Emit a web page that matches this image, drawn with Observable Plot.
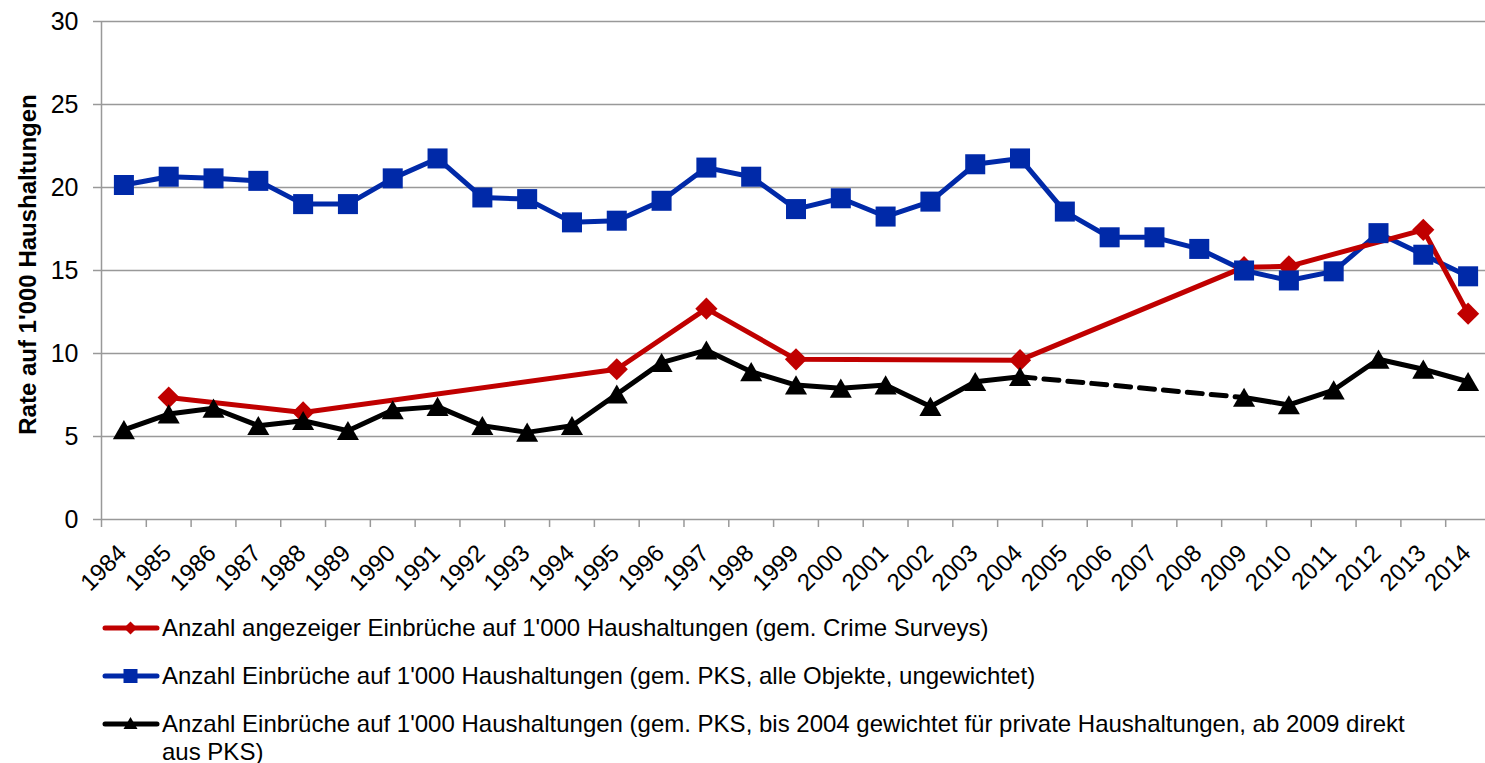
<!DOCTYPE html>
<html><head><meta charset="utf-8">
<script src="https://cdn.jsdelivr.net/npm/d3@7"></script>
<script src="https://cdn.jsdelivr.net/npm/@observablehq/plot@0.6"></script>
<style>
body{margin:0;background:#fff;font-family:"Liberation Sans",Arial,sans-serif;}
#legend{position:relative;height:166px;width:1485px;}
.row{position:absolute;left:0;width:1485px;}
.row svg{position:absolute;left:100px;top:2px;}
.row span{position:absolute;left:162px;top:0;font-size:24px;line-height:28px;color:#000;white-space:pre;}
</style></head><body>
<div id="chart"></div>
<div id="legend"></div>
<script>
const years = [1984,1985,1986,1987,1988,1989,1990,1991,1992,1993,1994,1995,1996,1997,1998,1999,2000,2001,2002,2003,2004,2005,2006,2007,2008,2009,2010,2011,2012,2013,2014];
const blueValues = [20.15,20.65,20.55,20.4,19.0,19.0,20.55,21.75,19.4,19.3,17.9,18.0,19.2,21.2,20.65,18.7,19.35,18.25,19.15,21.4,21.75,18.55,17.0,17.0,16.3,15.0,14.4,14.95,17.25,15.95,14.65];
const redYears = [1985,1988,1995,1997,1999,2004,2009,2010,2013,2014];
const redValues = [7.35,6.45,9.05,12.7,9.65,9.6,15.2,15.25,17.45,12.4];
const blackValues = [5.4,6.35,6.7,5.65,5.95,5.35,6.6,6.8,5.65,5.25,5.65,7.55,9.45,10.2,8.9,8.1,7.9,8.1,6.8,8.3,8.6,null,null,null,null,7.35,6.9,7.8,9.65,9.05,8.3];
const yTicks = [0,5,10,15,20,25,30];
const yTitle = "Rate auf 1'000 Haushaltungen";
const seriesNames = [
  "Anzahl angezeiger Einbrüche auf 1'000 Haushaltungen (gem. Crime Surveys)",
  "Anzahl Einbrüche auf 1'000 Haushaltungen (gem. PKS, alle Objekte, ungewichtet)",
  "Anzahl Einbrüche auf 1'000 Haushaltungen (gem. PKS, bis 2004 gewichtet für private Haushaltungen, ab 2009 direkt\naus PKS)"
];
const seriesColors = ["#C00000", "#0029A8", "#000000"];
const seriesSymbols = ["diamond2", "square", "triangle"];

const red = seriesColors[0], blue = seriesColors[1], black = seriesColors[2];
const blueData = years.map((y, i) => ({year: y, value: blueValues[i]}));
const redData = redYears.map((y, i) => ({year: y, value: redValues[i]}));
const blackAll = years.map((y, i) => ({year: y, value: blackValues[i]}));
const blackData = [];
let seg = 0;
blackAll.forEach((d, i) => {
  if (d.value == null) { if (i > 0 && blackAll[i-1].value != null) seg++; }
  else blackData.push({...d, seg});
});
const blackGap = [];
blackAll.forEach((d, i) => {
  if (d.value != null && i + 1 < blackAll.length && blackAll[i+1].value == null) {
    blackGap.push({...d, g: i});
    const nxt = blackAll.slice(i + 1).find(e => e.value != null);
    if (nxt) blackGap.push({...nxt, g: i});
  }
});
const tickPositions = [...years.map(y => y - 0.5), years[years.length-1] + 0.5];

const chart = Plot.plot({
  width: 1485, height: 600,
  marginLeft: 101, marginRight: 0, marginTop: 21, marginBottom: 81,
  style: {fontFamily: "'Liberation Sans', Arial, sans-serif", fontSize: "24px", background: "white"},
  x: {domain: [years[0] - 0.5, years[years.length-1] + 0.5], range: [101, 1490]},
  y: {domain: [0, 30]},
  marks: [
    Plot.gridY(yTicks, {stroke: "#999", strokeOpacity: 1, strokeWidth: 1.5}),
    Plot.ruleX([years[0] - 0.5], {stroke: "#999", strokeWidth: 1.5}),
    Plot.axisY(yTicks, {tickSize: 8, tickPadding: 15, stroke: "#999", strokeWidth: 1.5, fill: "#000", fontSize: 25, label: null}),
    Plot.axisX(tickPositions, {tickSize: 8, tickFormat: () => "", stroke: "#999", strokeWidth: 1.5, label: null}),
    Plot.text(years, {x: d => d, y: () => 0, text: d => String(d), rotate: -45, textAnchor: "end", lineAnchor: "bottom", dx: 4, dy: 35, fontSize: 24, fill: "#000"}),
    Plot.text([yTitle], {frameAnchor: "left", rotate: -90, textAnchor: "middle", lineAnchor: "bottom", dx: -66, dy: -6, fontWeight: "bold", fontSize: 24, fill: "#000"}),
    Plot.line(blueData, {x: "year", y: "value", stroke: blue, strokeWidth: 5}),
    Plot.line(redData, {x: "year", y: "value", stroke: red, strokeWidth: 5}),
    Plot.line(blackData, {x: "year", y: "value", z: "seg", stroke: black, strokeWidth: 5}),
    Plot.line(blackGap, {x: "year", y: "value", z: "g", stroke: black, strokeWidth: 5, strokeDasharray: "15,9"}),
    Plot.dot(redData, {x: "year", y: "value", symbol: "diamond2", r: 10, fill: red, stroke: "none"}),
    Plot.dot(blueData, {x: "year", y: "value", symbol: "square", r: 11.3, fill: blue, stroke: "none"}),
    Plot.dot(blackData, {x: "year", y: "value", symbol: "triangle", r: 8.2, dy: 3, fill: black, stroke: "none"})
  ]
});
document.getElementById("chart").appendChild(chart);

const legend = document.getElementById("legend");
seriesNames.forEach((name, i) => {
  const row = document.createElement("div");
  row.className = "row";
  row.style.top = (14 + 48 * i) + "px";
  const c = seriesColors[i];
  let marker = "";
  if (seriesSymbols[i] === "diamond2") marker = `<path d="M30.5,5.5L37,12L30.5,18.5L24,12Z" fill="${c}"/>`;
  else if (seriesSymbols[i] === "square") marker = `<rect x="23.5" y="5" width="14" height="14" fill="${c}"/>`;
  else marker = `<path d="M30.5,5L37.5,17L23.5,17Z" fill="${c}"/>`;
  row.innerHTML = `<svg width="62" height="24"><line x1="5" y1="12" x2="57" y2="12" stroke="${c}" stroke-width="5" stroke-linecap="round"/>${marker}</svg><span></span>`;
  row.querySelector("span").textContent = name;
  legend.appendChild(row);
});
</script>
</body></html>
